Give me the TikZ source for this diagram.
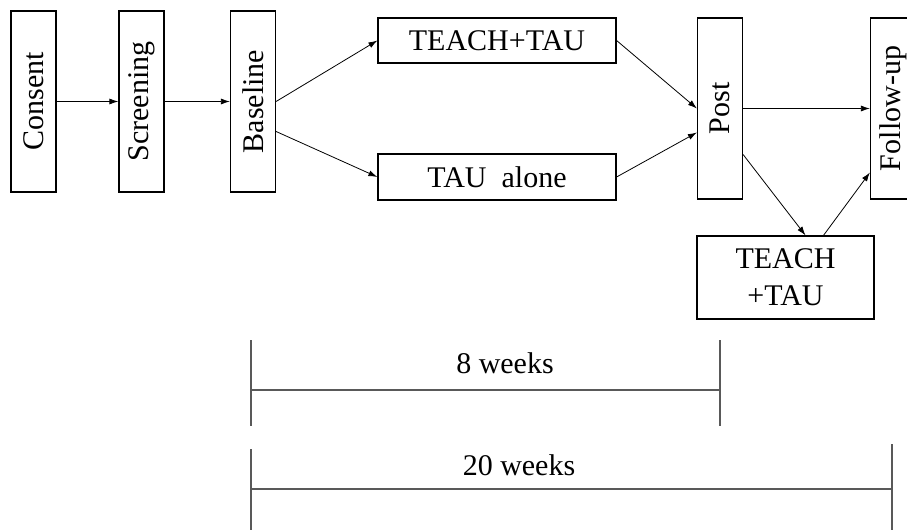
\documentclass[tikz,border=0pt]{standalone}
\usepackage{fontspec}
\setmainfont{Liberation Serif}
\usepackage{tikz}
\usetikzlibrary{arrows.meta}
\tikzstyle{vbox} = [draw, minimum width=22.5pt, minimum height=90.5pt, inner sep=0pt, line width=0.6pt]
\tikzstyle{hbox} = [draw, minimum width=119pt, minimum height=22.5pt, inner sep=0pt, line width=0.6pt]
\tikzstyle{tline} = [draw=black!65, line width=0.8pt]

\begin{document}
\begin{tikzpicture}[x=0.5pt, y=-0.5pt, font=\fontsize{15}{18.5}\selectfont, >={Latex[length=4.5pt,width=3pt]}]
\useasboundingbox (0,0) rectangle (907,530);

\node[vbox] (consent) at (33.5,101.5) {\rotatebox{90}{Consent}};
\node[vbox] (screening) at (141.5,101.5) {\rotatebox{90}{Screening}};
\node[vbox] (baseline) at (253,101.5) {\rotatebox{90}{Baseline}};
\node[hbox] (teach) at (497,40.5) {TEACH+TAU};
\node[hbox, minimum height=23pt] (tau) at (497,177) {TAU~~alone};
\node[vbox] (post) at (720,108.5) {\rotatebox{90}{Post}};
\node[vbox] (followup) at (893,108.5) {\rotatebox{90}{Follow-up}};
\node[draw, line width=0.6pt, minimum width=88.5pt, minimum height=41.5pt, align=center, inner sep=0pt] (teachb) at (785.5,277.5) {TEACH\\+TAU};

\draw[->] (consent.east) -- (screening.west);
\draw[->] (screening.east) -- (baseline.west);
\draw[->] (baseline.east) -- (teach.west);
\draw[->] ([yshift=-15pt]baseline.east) -- (tau.west);
\draw[->] (teach.east) -- (post.west);
\draw[->] (tau.east) -- ([yshift=-12pt]post.west);
\draw[->] (post.east) -- (followup.west);
\draw[->] ([yshift=-23pt]post.east) -- ([xshift=10pt]teachb.north);
\draw[->] ([xshift=19pt]teachb.north) -- ([yshift=-32pt]followup.west);

\draw[tline] (251,340) -- (251,426);
\draw[tline] (720,340) -- (720,426);
\draw[tline] (251,390) -- (720,390);
\node (eight) at (505,363) {8 weeks};

\draw[tline] (251,449) -- (251,530);
\draw[tline] (892,444) -- (892,530);
\draw[tline] (251,489) -- (892,489);
\node (twenty) at (519,465) {20 weeks};
\end{tikzpicture}
\end{document}
